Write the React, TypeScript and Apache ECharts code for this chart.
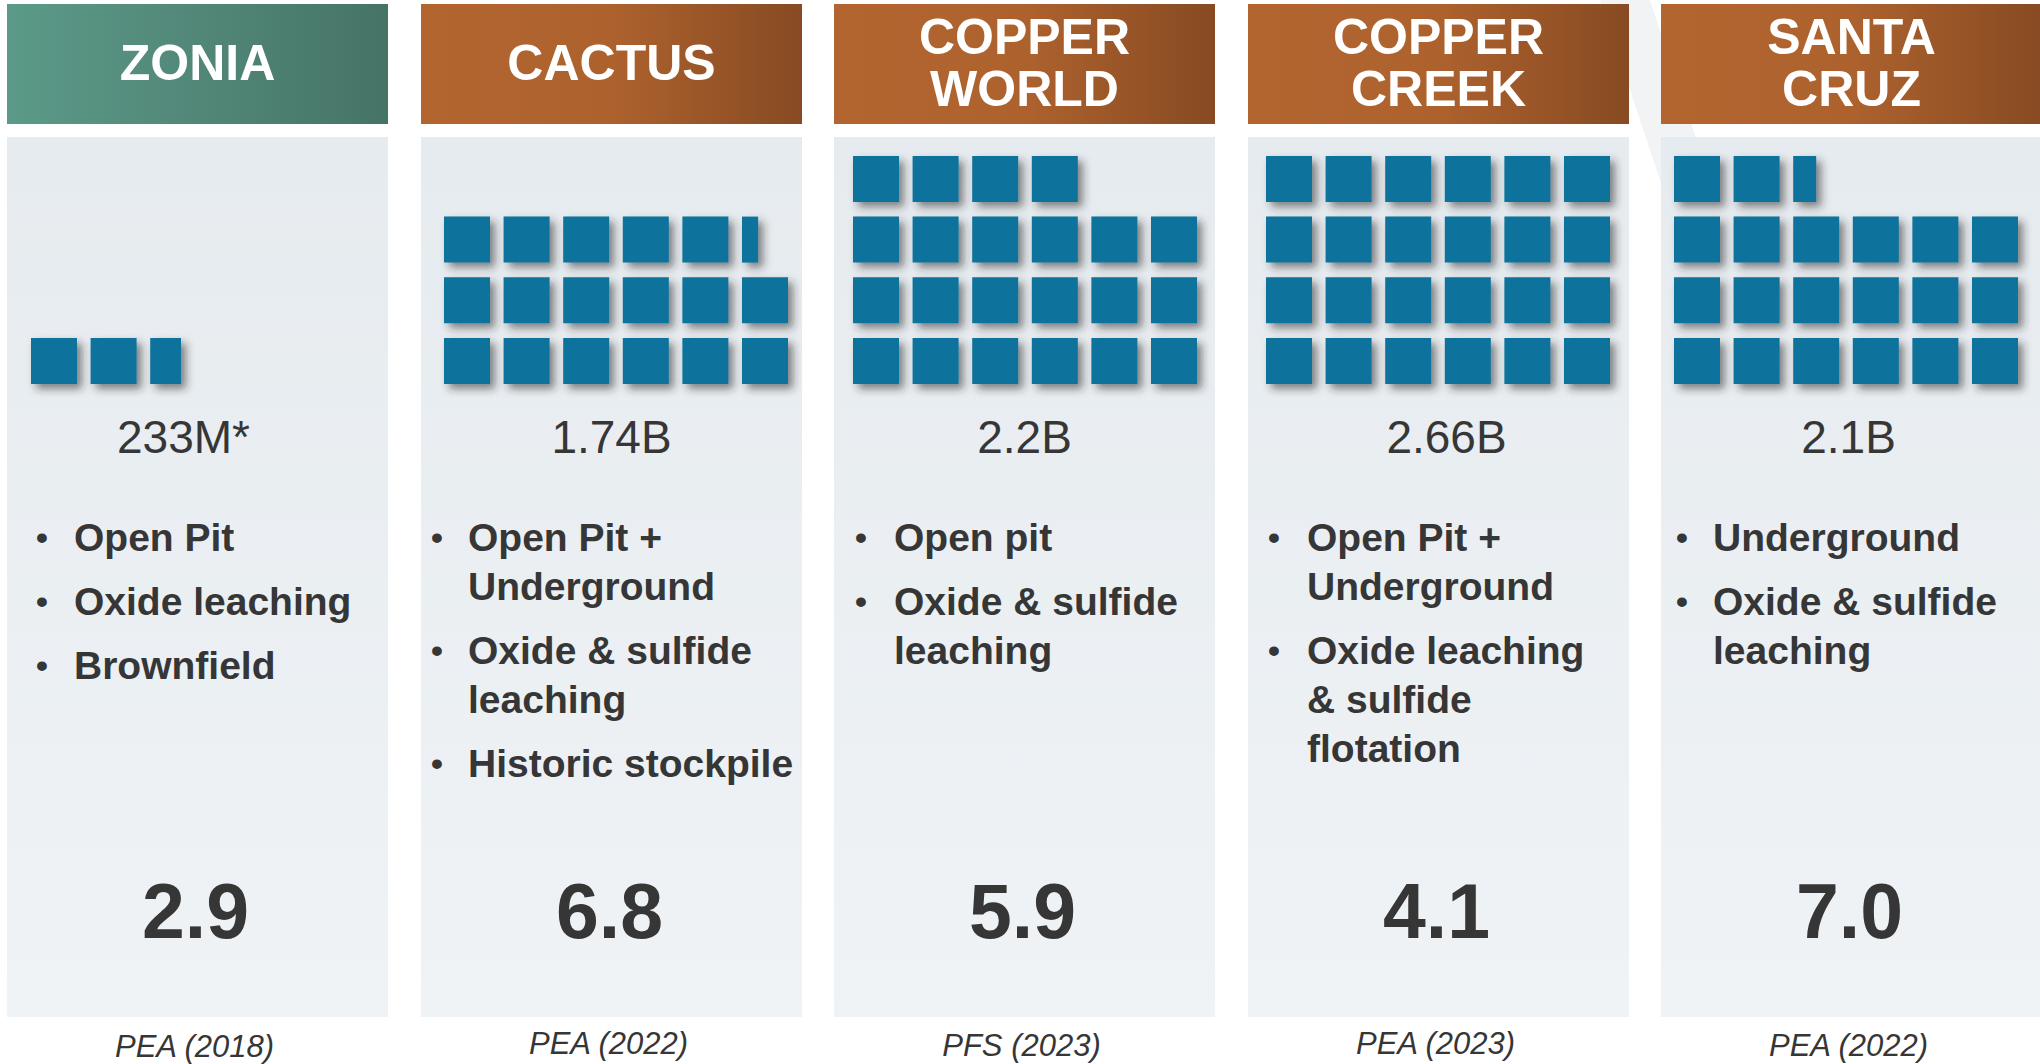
import React, { useEffect, useRef } from "react";
import * as echarts from "echarts";

// ---------- data ----------
const projects = ["ZONIA", "CACTUS", "COPPER\nWORLD", "COPPER\nCREEK", "SANTA\nCRUZ"];
const headerThemes = ["green", "copper", "copper", "copper", "copper"];
const resourceLabels = ["233M*", "1.74B", "2.2B", "2.66B", "2.1B"];
// number of squares drawn (one square ≈ 100M t)
const squareUnits = [2.67, 17.35, 22, 24, 20.5];
const zoniaBullets = [["Open Pit"], ["Oxide leaching"], ["Brownfield"]];
const cactusBullets = [["Open Pit +", "Underground"], ["Oxide & sulfide", "leaching"], ["Historic stockpile"]];
const copperWorldBullets = [["Open pit"], ["Oxide & sulfide", "leaching"]];
const copperCreekBullets = [["Open Pit +", "Underground"], ["Oxide leaching", "& sulfide", "flotation"]];
const santaCruzBullets = [["Underground"], ["Oxide & sulfide", "leaching"]];
const bulletLists = [zoniaBullets, cactusBullets, copperWorldBullets, copperCreekBullets, santaCruzBullets];
const bigValues = ["2.9", "6.8", "5.9", "4.1", "7.0"];
const studies = ["PEA (2018)", "PEA (2022)", "PFS (2023)", "PEA (2023)", "PEA (2022)"];

// ---------- layout ----------
const W = 2040;
const H = 1064;
const PANEL_LEFT = [7, 421, 834, 1248, 1661];
const PANEL_W = 381;
const HEADER_TOP = 4;
const HEADER_H = 120;
const BODY_TOP = 137;
const BODY_BOTTOM = 1017;
const SQ_LEFT = [31, 444, 853, 1266, 1674];
const COLS = 6;
const ROWS = 4;
const COL_PITCH = 59.6;
const ROW_PITCH = 60.7;
const SQ = 46;
const SQ_BOTTOM = 384;
const BULLET_DX = [35, 16, 27, 26, 21];
const TEXT_DX = [67, 47, 60, 59, 52];
const LABEL_DX = [-14, 0, 0, 8, -3];
const FOOT_Y = [1046, 1043, 1045, 1043, 1045];
const FONT = '"Liberation Sans", Arial, Helvetica, sans-serif';
const TEXT_COLOR = "#363636";
const SQUARE_COLOR = "#0b729c";

function squaresFor(units: number) {
  const out: number[][] = [];
  const n = Math.ceil(units - 1e-9);
  for (let i = 0; i < n; i++) {
    out.push([i % COLS, Math.floor(i / COLS), Math.min(1, units - i)]);
  }
  return out;
}

function buildOption() {
  const grids: any[] = [];
  const xAxes: any[] = [];
  const yAxes: any[] = [];
  const series: any[] = [];
  const graphics: any[] = [];

  // faint background decoration
  graphics.push({
    type: "polygon",
    z: 0,
    silent: true,
    shape: { points: [[1600, 0], [1650, 0], [1760, 330], [1710, 330]] },
    style: { fill: "rgba(214,220,226,0.35)" },
  });

  projects.forEach((name, i) => {
    const left = PANEL_LEFT[i];
    const cx = left + PANEL_W / 2;
    const isGreen = headerThemes[i] === "green";
    const grad = isGreen
      ? new echarts.graphic.LinearGradient(0, 0, 1, 0, [
          { offset: 0, color: "#5b9a88" },
          { offset: 0.45, color: "#53897a" },
          { offset: 1, color: "#457466" },
        ])
      : new echarts.graphic.LinearGradient(0, 0, 1, 0, [
          { offset: 0, color: "#b3652f" },
          { offset: 0.5, color: "#ad622e" },
          { offset: 1, color: "#874a22" },
        ]);
    graphics.push({
      type: "rect",
      z: 1,
      silent: true,
      shape: { x: left, y: HEADER_TOP, width: PANEL_W, height: HEADER_H },
      style: { fill: grad },
    });
    graphics.push({
      type: "rect",
      z: 1,
      silent: true,
      shape: { x: left, y: BODY_TOP, width: PANEL_W, height: BODY_BOTTOM - BODY_TOP },
      style: {
        fill: new echarts.graphic.LinearGradient(0, 0, 0, 1, [
          { offset: 0, color: "#e6ebef" },
          { offset: 1, color: "#eff3f6" },
        ]),
      },
    });
    graphics.push({
      type: "text",
      z: 10,
      silent: true,
      x: cx,
      y: HEADER_TOP + HEADER_H / 2 - 1,
      style: {
        text: name,
        fill: "#ffffff",
        font: `bold 50px ${FONT}`,
        align: "center",
        verticalAlign: "middle",
        lineHeight: 52,
      },
    });
    graphics.push({
      type: "text",
      z: 10,
      silent: true,
      x: cx + LABEL_DX[i],
      y: 437,
      style: {
        text: resourceLabels[i],
        fill: TEXT_COLOR,
        font: `46px ${FONT}`,
        align: "center",
        verticalAlign: "middle",
      },
    });
    // bullets
    let y = 537;
    bulletLists[i].forEach((item) => {
      graphics.push({
        type: "text",
        z: 10,
        silent: true,
        x: left + BULLET_DX[i],
        y: y,
        style: {
          text: "•",
          fill: TEXT_COLOR,
          font: `bold 34px ${FONT}`,
          align: "center",
          verticalAlign: "middle",
        },
      });
      item.forEach((line) => {
        graphics.push({
          type: "text",
          z: 10,
          silent: true,
          x: left + TEXT_DX[i],
          y: y,
          style: {
            text: line,
            fill: TEXT_COLOR,
            font: `bold 39px ${FONT}`,
            align: "left",
            verticalAlign: "middle",
          },
        });
        y += 49;
      });
      y += 15;
    });
    graphics.push({
      type: "text",
      z: 10,
      silent: true,
      x: cx - 2,
      y: 911,
      style: {
        text: bigValues[i],
        fill: TEXT_COLOR,
        font: `bold 77px ${FONT}`,
        align: "center",
        verticalAlign: "middle",
      },
    });
    graphics.push({
      type: "text",
      z: 10,
      silent: true,
      x: cx - 3,
      y: FOOT_Y[i],
      style: {
        text: studies[i],
        fill: TEXT_COLOR,
        font: `italic 31px ${FONT}`,
        align: "center",
        verticalAlign: "middle",
      },
    });

    // squares grid
    grids.push({
      left: SQ_LEFT[i],
      top: SQ_BOTTOM - ROWS * ROW_PITCH,
      width: COLS * COL_PITCH,
      height: ROWS * ROW_PITCH,
      containLabel: false,
    });
    xAxes.push({ gridIndex: i, type: "value", min: 0, max: COLS, show: false });
    yAxes.push({ gridIndex: i, type: "value", min: 0, max: ROWS, show: false });
    series.push({
      type: "custom",
      xAxisIndex: i,
      yAxisIndex: i,
      z: 5,
      silent: true,
      data: squaresFor(squareUnits[i]),
      renderItem: (_params: any, api: any) => {
        const col = api.value(0);
        const row = api.value(1);
        const frac = api.value(2);
        const p = api.coord([col, row]);
        return {
          type: "rect",
          shape: { x: p[0], y: p[1] - SQ, width: SQ * frac, height: SQ },
          style: {
            fill: SQUARE_COLOR,
            shadowBlur: 9,
            shadowColor: "rgba(40,40,40,0.55)",
            shadowOffsetX: 5,
            shadowOffsetY: 5,
          },
        };
      },
    });
  });

  return {
    animation: false,
    backgroundColor: "#ffffff",
    grid: grids,
    xAxis: xAxes,
    yAxis: yAxes,
    series,
    graphic: { elements: graphics },
  };
}

export default function App() {
  const ref = useRef<HTMLDivElement>(null);
  useEffect(() => {
    if (!ref.current) return;
    const chart = echarts.init(ref.current, undefined, { renderer: "svg" });
    chart.setOption(buildOption() as any);
    return () => chart.dispose();
  }, []);
  return (
    <div
      ref={ref}
      style={{ position: "absolute", left: 0, top: 0, width: W, height: H }}
    />
  );
}
